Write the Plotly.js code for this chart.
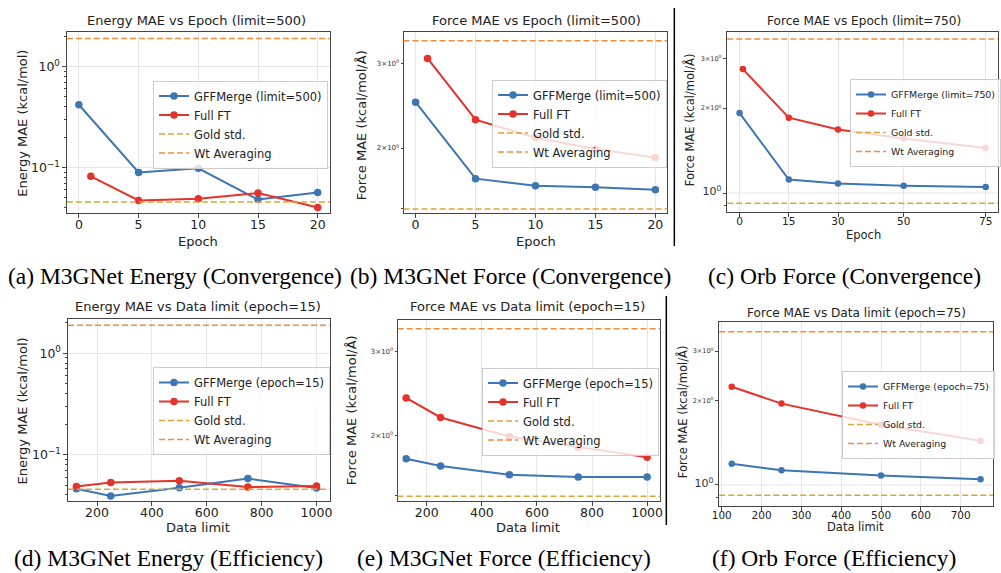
<!DOCTYPE html>
<html>
<head>
<meta charset="utf-8">
<script src="https://cdn.plot.ly/plotly-3.0.1.min.js"></script>
<style>html,body{margin:0;padding:0;background:#fff;}#chart{width:1001px;height:573px;}</style>
</head>
<body>
<div id="chart"></div>
<script>
// ---------------- data ----------------
const epochsM3 = [0, 5, 10, 15, 20];
const epochsM3Full = [1, 5, 10, 15, 20];
const gffEnergyEpoch = [0.418, 0.089, 0.098, 0.048, 0.0565];
const fullEnergyEpoch = [0.0815, 0.047, 0.049, 0.0557, 0.040];
const gffForceEpoch = [2.49, 1.727, 1.67, 1.657, 1.637];
const fullForceEpoch = [3.07, 2.29, 2.10, 1.99, 1.91];

const epochsOrb = [0, 15, 30, 50, 75];
const epochsOrbFull = [1, 15, 30, 50, 75];
const gffOrbEpoch = [1.92, 1.116, 1.08, 1.062, 1.05];
const fullOrbEpoch = [2.75, 1.85, 1.68, 1.56, 1.444];

const limitsM3 = [125, 250, 500, 750, 1000];
const gffEnergyLimit = [0.046, 0.039, 0.047, 0.058, 0.0467];
const fullEnergyLimit = [0.0485, 0.053, 0.0553, 0.0478, 0.049];
const gffForceLimit = [1.787, 1.726, 1.656, 1.637, 1.637];
const fullForceLimit = [2.395, 2.18, 1.99, 1.89, 1.80];

const limitsOrb = [125, 250, 500, 750];
const gffOrbLimit = [1.19, 1.128, 1.08, 1.048];
const fullOrbLimit = [2.24, 1.95, 1.64, 1.436];

const goldEnergyM3 = 0.0455, wtEnergyM3 = 1.89;
const goldForceM3 = 1.493, wtForceM3 = 3.34;
const goldForceOrb = 0.919, wtForceOrb = 3.52;

const titles = [
  'Energy MAE vs Epoch (limit=500)',
  'Force MAE vs Epoch (limit=500)',
  'Force MAE vs Epoch (limit=750)',
  'Energy MAE vs Data limit (epoch=15)',
  'Force MAE vs Data limit (epoch=15)',
  'Force MAE vs Data limit (epoch=75)'
];
const gffNames = ['GFFMerge (limit=500)', 'GFFMerge (limit=500)', 'GFFMerge (limit=750)',
                  'GFFMerge (epoch=15)', 'GFFMerge (epoch=15)', 'GFFMerge (epoch=75)'];
const xTitles = ['Epoch', 'Epoch', 'Epoch', 'Data limit', 'Data limit', 'Data limit'];
const yTitles = ['Energy MAE (kcal/mol)', 'Force MAE (kcal/mol/Å)', 'Force MAE (kcal/mol/Å)',
                 'Energy MAE (kcal/mol)', 'Force MAE (kcal/mol/Å)', 'Force MAE (kcal/mol/Å)'];
const captions = ['(a) M3GNet Energy (Convergence)', '(b) M3GNet Force (Convergence)', '(c) Orb Force (Convergence)',
                  '(d) M3GNet Energy (Efficiency)', '(e) M3GNet Force (Efficiency)', '(f) Orb Force (Efficiency)'];
const orbXTicks = [0, 15, 30, 50, 75];

// ---------------- styles / layout ----------------
const W = 1001, H = 573;
const PX = x => x / W;
const PY = y => 1 - y / H;
const BLUE = '#3d76b2', RED = '#e5332b', GOLD = '#dba53a', ORANGE = '#f18d3c';
const FONT = 'DejaVu Sans';
const AXC = '#444';

const panels = [
  {xd:[67,330], yd:[32,213], xr:[-1,21], yr:[-1.452,0.342], dtick:5, kind:'E', big:true,
   title:[197,20], xt:[198,241], yt:[22.7,123], leg:[153,80.5]},
  {xd:[404,668], yd:[32,213], xr:[-1,21], yr:[0.166,0.542], dtick:5, kind:'F', big:true,
   title:[537,20], xt:[537,241], yt:[361.7,125], leg:[492,79.5]},
  {xd:[728,999], yd:[32,212], xr:[-3.75,78.75], yr:[-0.0674,0.571], kind:'O', big:false, orbx:true,
   title:[864.5,20.7], xt:[864,235], yt:[690,120], leg:[851,79]},
  {xd:[68,330], yd:[319,501], xr:[94,1048], yr:[-1.458,0.337], dtick:200, kind:'E', big:true,
   title:[198.5,306.7], xt:[198.3,527], yt:[22.7,410.8], leg:[153,367]},
  {xd:[398,661], yd:[320,501], xr:[94,1048], yr:[0.164,0.542], dtick:200, kind:'F', big:true,
   title:[528.5,306.7], xt:[528.3,527], yt:[351.7,410], leg:[482,367.5]},
  {xd:[720,994], yd:[322,506], xr:[93.75,781.25], yr:[-0.075,0.581], dtick:100, kind:'O', big:false,
   title:[857,313.3], xt:[856.7,527], yt:[683.3,411.7], leg:[842,371]}
];

const series = [
  {x:epochsM3, y:gffEnergyEpoch, xf:epochsM3Full, yf:fullEnergyEpoch, gold:goldEnergyM3, wt:wtEnergyM3},
  {x:epochsM3, y:gffForceEpoch, xf:epochsM3Full, yf:fullForceEpoch, gold:goldForceM3, wt:wtForceM3},
  {x:epochsOrb, y:gffOrbEpoch, xf:epochsOrbFull, yf:fullOrbEpoch, gold:goldForceOrb, wt:wtForceOrb},
  {x:limitsM3, y:gffEnergyLimit, xf:limitsM3, yf:fullEnergyLimit, gold:goldEnergyM3, wt:wtEnergyM3},
  {x:limitsM3, y:gffForceLimit, xf:limitsM3, yf:fullForceLimit, gold:goldForceM3, wt:wtForceM3},
  {x:limitsOrb, y:gffOrbLimit, xf:limitsOrb, yf:fullOrbLimit, gold:goldForceOrb, wt:wtForceOrb}
];

const minorE = [0.03,0.04,0.05,0.06,0.07,0.08,0.09,0.2,0.3,0.4,0.5,0.6,0.7,0.8,0.9,2,3];
const minorF = [1.5,4];
const minorO = [0.9,4];

const traces = [];
const shapes = [];
const annotations = [];
const layout = {
  width: W, height: H,
  margin: {l:0, r:0, t:0, b:0},
  paper_bgcolor: '#fff', plot_bgcolor: '#fff',
  font: {family: FONT, color: '#222'},
  showlegend: true
};

panels.forEach((p, i) => {
  const n = i + 1;
  const xa = n === 1 ? 'xaxis' : 'xaxis' + n;
  const ya = n === 1 ? 'yaxis' : 'yaxis' + n;
  const xr = n === 1 ? 'x' : 'x' + n;
  const yr = n === 1 ? 'y' : 'y' + n;
  const lg = n === 1 ? 'legend' : 'legend' + n;
  const s = series[i];
  const tickSize = p.big ? 12.5 : 10.5;
  const legSize = p.big ? 11.5 : 9.4;
  const msize = p.big ? 7.5 : 6.5;

  traces.push({
    x: s.x, y: s.y, xaxis: xr, yaxis: yr, legend: lg,
    type: 'scatter', mode: 'lines+markers', name: gffNames[i],
    line: {color: BLUE, width: 2}, marker: {color: BLUE, size: msize}
  });
  traces.push({
    x: s.xf, y: s.yf, xaxis: xr, yaxis: yr, legend: lg,
    type: 'scatter', mode: 'lines+markers', name: 'Full FT',
    line: {color: RED, width: 2}, marker: {color: RED, size: msize}
  });

  shapes.push({type:'line', xref: xr + ' domain', yref: yr, x0:0, x1:1, y0:s.gold, y1:s.gold,
    line:{color: GOLD, width:1.5, dash:'6px,3px'}, showlegend:true, name:'Gold std.', legend: lg, layer:'above'});
  shapes.push({type:'line', xref: xr + ' domain', yref: yr, x0:0, x1:1, y0:s.wt, y1:s.wt,
    line:{color: ORANGE, width:1.5, dash:'6px,3px'}, showlegend:true, name:'Wt Averaging', legend: lg, layer:'above'});

  const xaxis = {
    domain: [PX(p.xd[0]), PX(p.xd[1])], anchor: yr, range: p.xr,
    showline: true, mirror: true, linecolor: AXC, linewidth: 1,
    ticks: 'outside', ticklen: 3.5, tickcolor: AXC, ticklabelstandoff: -4,
    showgrid: true, gridcolor: '#e6e6e6', gridwidth: 1, zeroline: false,
    tickfont: {size: tickSize, family: FONT, color: '#222'}
  };
  if (p.orbx) { xaxis.tickmode = 'array'; xaxis.tickvals = orbXTicks; }
  else { xaxis.tickmode = 'linear'; xaxis.tick0 = 0; xaxis.dtick = p.dtick; }
  layout[xa] = xaxis;

  const yaxis = {
    type: 'log', domain: [PY(p.yd[1]), PY(p.yd[0])], anchor: xr, range: p.yr,
    showline: true, mirror: true, linecolor: AXC, linewidth: 1,
    ticks: 'outside', ticklen: 3.5, tickcolor: AXC, zeroline: false,
    tickmode: 'array', gridcolor: '#e6e6e6', gridwidth: 1
  };
  if (p.kind === 'E') {
    yaxis.tickvals = [0.1, 1];
    yaxis.ticktext = ['10<sup>−1</sup>', '10<sup>0</sup>'];
    yaxis.tickfont = {size: tickSize, family: FONT, color: '#222'};
    yaxis.showgrid = true;
    yaxis.minor = {ticks:'outside', ticklen:2, tickcolor:AXC, tickmode:'array', tickvals: minorE, showgrid:false};
  } else if (p.kind === 'F') {
    yaxis.tickvals = [2, 3];
    yaxis.ticktext = ['2×10<sup>0</sup>', '3×10<sup>0</sup>'];
    yaxis.tickfont = {size: 7, family: FONT, color: '#333'};
    yaxis.ticklen = 2;
    yaxis.showgrid = false;
    yaxis.minor = {ticks:'outside', ticklen:2, tickcolor:AXC, tickmode:'array', tickvals: minorF, showgrid:false};
  } else {
    yaxis.tickvals = [1, 2, 3];
    yaxis.ticktext = ['<span style="font-size:11px">10<sup>0</sup></span>', '2×10<sup>0</sup>', '3×10<sup>0</sup>'];
    yaxis.tickfont = {size: 6.5, family: FONT, color: '#333'};
    yaxis.showgrid = false;
    yaxis.minor = {ticks:'outside', ticklen:2, tickcolor:AXC, tickmode:'array', tickvals: minorO, showgrid:false};
    shapes.push({type:'line', xref: xr + ' domain', yref: yr, x0:0, x1:1, y0:1, y1:1,
      line:{color:'#e6e6e6', width:1}, layer:'below'});
  }
  layout[ya] = yaxis;

  layout[lg] = {
    x: PX(p.leg[0]), y: PY(p.leg[1]), xanchor: 'left', yanchor: 'top',
    xref: 'paper', yref: 'paper',
    bgcolor: 'rgba(255,255,255,0.8)', bordercolor: '#cccccc', borderwidth: 1,
    font: {size: legSize, family: FONT, color: '#222'},
    tracegroupgap: 0, itemwidth: 30, traceorder: 'normal'
  };

  annotations.push({text: titles[i], xref:'paper', yref:'paper', x: PX(p.title[0]), y: PY(p.title[1]),
    xanchor:'center', yanchor:'middle', showarrow:false,
    font:{size: p.big ? 13 : 12.1, family: FONT, color:'#222'}});
  annotations.push({text: xTitles[i], xref:'paper', yref:'paper', x: PX(p.xt[0]), y: PY(p.xt[1]),
    xanchor:'center', yanchor:'middle', showarrow:false,
    font:{size: p.big ? 13 : 11.5, family: FONT, color:'#222'}});
  annotations.push({text: yTitles[i], xref:'paper', yref:'paper', x: PX(p.yt[0]), y: PY(p.yt[1]),
    xanchor:'center', yanchor:'middle', showarrow:false, textangle: -90,
    font:{size: p.big ? 13 : 11.5, family: FONT, color:'#222'}});
});

const capPos = [[175,276],[511.5,276],[845.5,276],[168.5,558],[504.5,558],[835,558]];
captions.forEach((c, i) => {
  annotations.push({text: c, xref:'paper', yref:'paper', x: PX(capPos[i][0]), y: PY(capPos[i][1]),
    xanchor:'center', yanchor:'middle', showarrow:false,
    font:{size: 23.5, family:'Liberation Serif', color:'#000'}});
});

// separators
shapes.push({type:'line', xref:'paper', yref:'paper', x0:PX(675), x1:PX(675), y0:PY(8), y1:PY(246), line:{color:'#000', width:1.5}});
shapes.push({type:'line', xref:'paper', yref:'paper', x0:PX(667), x1:PX(667), y0:PY(296), y1:PY(525), line:{color:'#000', width:1.5}});

layout.shapes = shapes;
layout.annotations = annotations;

Plotly.newPlot('chart', traces, layout, {displayModeBar: false, staticPlot: true});
</script>
</body>
</html>
